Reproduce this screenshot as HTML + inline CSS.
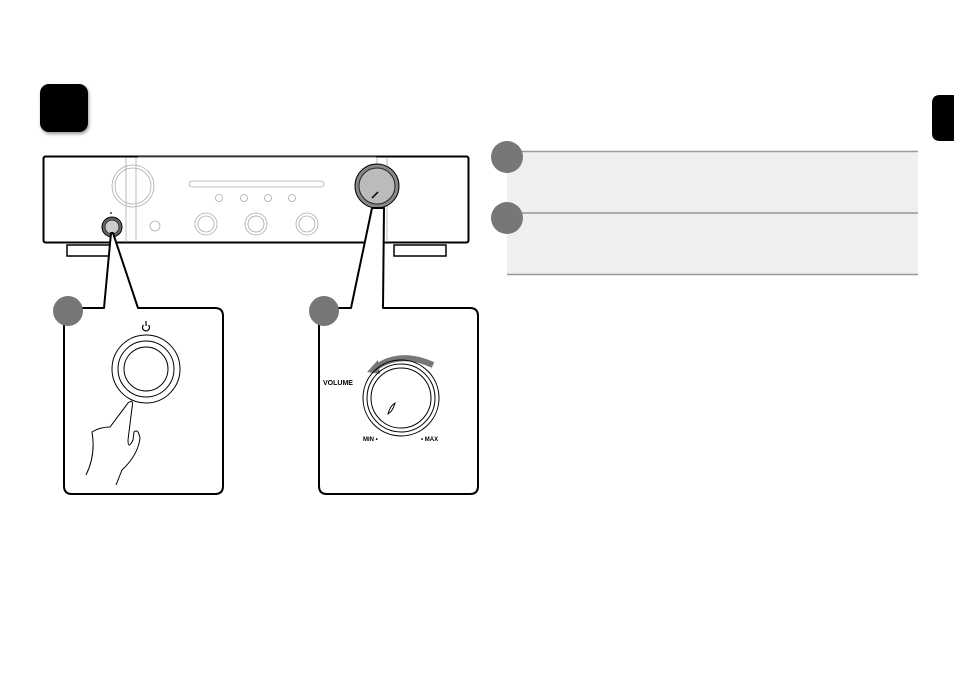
<!DOCTYPE html>
<html><head><style>html,body{margin:0;padding:0;background:#fff;width:954px;height:673px;overflow:hidden}</style></head>
<body>
<svg width="954" height="673" viewBox="0 0 954 673" xmlns="http://www.w3.org/2000/svg" font-family="Liberation Sans, sans-serif">
<defs><filter id="sh" x="-20%" y="-20%" width="150%" height="150%"><feDropShadow dx="1" dy="2" stdDeviation="1.5" flood-color="#000" flood-opacity="0.4"/></filter></defs>
<rect x="40" y="84" width="48" height="48" rx="9" fill="#000" filter="url(#sh)"/>
<path d="M954 95 H940 Q932 95 932 103 V133 Q932 141 940 141 H954 Z" fill="#000"/>
<rect x="507" y="151" width="411" height="124" fill="#efefef"/>
<line x1="507" y1="151.5" x2="918" y2="151.5" stroke="#999" stroke-width="1.5"/>
<line x1="507" y1="213" x2="918" y2="213" stroke="#999" stroke-width="1.5"/>
<line x1="507" y1="274.5" x2="918" y2="274.5" stroke="#999" stroke-width="1.5"/>
<circle cx="507" cy="157" r="16" fill="#777"/>
<circle cx="507" cy="218" r="16" fill="#777"/>
<g fill="none" stroke="#000">
<rect x="67" y="245" width="48" height="11" stroke-width="1.5"/>
<rect x="394" y="245" width="52" height="11" stroke-width="1.5"/>
</g>
<rect x="43.5" y="156.5" width="425" height="86" rx="2" fill="#fff" stroke="#000" stroke-width="2"/>
<g fill="none" stroke="#aaa" stroke-width="0.8">
<line x1="138" y1="157" x2="376" y2="157" stroke="#888"/>
<line x1="126" y1="158" x2="126" y2="242"/><line x1="136" y1="158" x2="136" y2="242"/>
<line x1="377" y1="158" x2="377" y2="242"/><line x1="387" y1="158" x2="387" y2="242"/>
<circle cx="133" cy="186" r="21"/><circle cx="133" cy="186" r="18"/>
<rect x="189" y="181" width="135" height="6" rx="3"/>
<circle cx="219" cy="198" r="3.5"/><circle cx="244" cy="198" r="3.5"/><circle cx="268" cy="198" r="3.5"/><circle cx="292" cy="198" r="3.5"/>
<circle cx="155" cy="226" r="5"/>
<circle cx="206" cy="224" r="11"/><circle cx="206" cy="224" r="8"/>
<circle cx="256" cy="224" r="11"/><circle cx="256" cy="224" r="8"/>
<circle cx="307" cy="224" r="11"/><circle cx="307" cy="224" r="8"/>
</g>
<circle cx="112" cy="227" r="10" fill="#666" stroke="#000"/>
<circle cx="112" cy="227" r="7" fill="#ccc" stroke="#333"/>
<circle cx="111" cy="213" r="1" fill="#333"/>
<circle cx="377" cy="186" r="22" fill="#888" stroke="#000"/>
<circle cx="377" cy="186" r="18" fill="#bbb" stroke="#222"/>
<line x1="372" y1="198" x2="378" y2="192" stroke="#000" stroke-width="1.5"/>
<path d="M104 308 L111 233 L113 233 L138 308 H215 Q223 308 223 316 V486 Q223 494 215 494 H72 Q64 494 64 486 V316 Q64 308 72 308 Z" fill="#fff" stroke="#000" stroke-width="2" stroke-linejoin="round"/>
<circle cx="68" cy="311" r="15" fill="#777"/>
<g fill="none" stroke="#000" stroke-width="1">
<circle cx="146" cy="369" r="34"/><circle cx="146" cy="369" r="28"/><circle cx="146" cy="369" r="22"/>
<path d="M143.5 325 a3.5 3.5 0 1 0 5 0 M146 321 v5" stroke-width="1.2"/>
<path d="M86 475 Q96 455 92 432 Q100 427 110 427 L128 403 Q134 398 132 408 L128 440 Q128 450 133 440 L134 432 Q138 428 140 438 Q138 455 122 470 L116 485"/>
</g>
<path d="M351 308 L372 208 L384 208 L383 308 H470 Q478 308 478 316 V486 Q478 494 470 494 H327 Q319 494 319 486 V316 Q319 308 327 308 Z" fill="#fff" stroke="#000" stroke-width="2" stroke-linejoin="round"/>
<circle cx="324" cy="311" r="15" fill="#777"/>
<path d="M375 368 Q400 350 433 365" fill="none" stroke="#777" stroke-width="6"/>
<path d="M367 372 L378 360 L380 374 Z" fill="#777"/>
<g fill="none" stroke="#000" stroke-width="1">
<circle cx="401" cy="398" r="38"/><circle cx="401" cy="398" r="34"/><circle cx="401" cy="398" r="30"/>
<path d="M388 414 Q390 406 395 403 Q393 411 388 414 Z"/>
</g>
<text x="323" y="385" font-size="7" font-weight="bold">VOLUME</text>
<text x="363" y="441" font-size="6" font-weight="bold">MIN •</text>
<text x="421" y="441" font-size="6" font-weight="bold">• MAX</text>
</svg>
</body></html>
